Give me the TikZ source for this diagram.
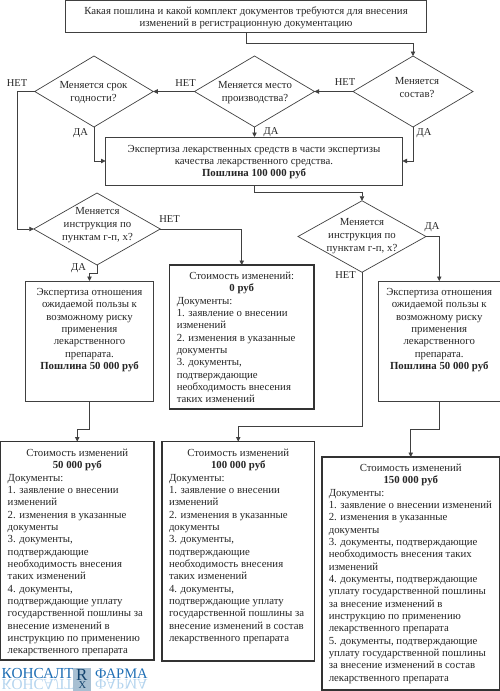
\documentclass[tikz,border=0pt]{standalone}
\usepackage{fontspec}
\setmainfont{Liberation Serif}
\usetikzlibrary{shapes.geometric,arrows.meta}
\definecolor{ln}{HTML}{404040}
\definecolor{logoblue}{HTML}{1F6FB5}
\definecolor{logopale}{HTML}{B4D4EE}
\newcommand{\ctr}[1]{\makebox[\linewidth][c]{#1}}
% height, width, top offset, text
\newcommand{\boxtext}[4]{\parbox[c][#1][t]{#2}{\vspace*{#3}\raggedright\fontsize{10.8}{12.33}\selectfont #4}}
\tikzset{
  box/.style={draw=ln,line width=0.8pt,fill=white,inner sep=0pt,outer sep=0pt,anchor=north west,text=black!85},
  thickbox/.style={box,draw=black!80,line width=1.6pt},
  dia/.style={diamond,draw=ln,line width=0.7pt,inner sep=0pt,outer sep=0pt},
  dtext/.style={inner sep=0pt,align=center,font=\fontsize{10.8}{13}\selectfont,text=black!85},
  lbl/.style={inner sep=0pt,font=\fontsize{10.5}{12}\selectfont,text=black!85},
  conn/.style={draw=ln,line width=0.8pt,-{Triangle[length=4.5pt,width=4.5pt]}},
  logo/.style={inner sep=0pt,anchor=base west,font=\fontsize{15.3}{16}\selectfont,text=logoblue},
  logof/.style={logo,font=\fontsize{14.5}{16}\selectfont},
  logor/.style={logo,yscale=-1,text=logopale},
  logofr/.style={logof,yscale=-1,text=logopale}
}
\begin{document}
\begin{tikzpicture}[x=1pt,y=-1pt]
\useasboundingbox (0,0) rectangle (500,691);
% boxes
\node[box,minimum width=361pt,minimum height=32.5pt] (top) at (65.5,0)
  {\boxtext{32.5pt}{361pt}{6.5pt}{\ctr{Какая пошлина и какой комплект документов требуются для внесения}\\\ctr{изменений в регистрационную документацию}}};
\node[box,minimum width=297pt,minimum height=48pt] (Q) at (105.5,137)
  {\boxtext{48pt}{297pt}{8pt}{\ctr{Экспертиза лекарственных средств в части экспертизы}\\\ctr{качества лекарственного средства.}\\\ctr{\textbf{Пошлина 100 000 руб}}}};
\node[box,minimum width=128pt,minimum height=120pt] (A) at (25.5,281)
  {\boxtext{120pt}{128pt}{7.5pt}{\ctr{Экспертиза отношения}\\\ctr{ожидаемой пользы к}\\\ctr{возможному риску}\\\ctr{применения}\\\ctr{лекарственного}\\\ctr{препарата.}\\\ctr{\textbf{Пошлина 50 000 руб}}}};
\node[box,minimum width=121.5pt,minimum height=120pt] (B) at (378.5,281)
  {\boxtext{120pt}{121.5pt}{7.5pt}{\ctr{Экспертиза отношения}\\\ctr{ожидаемой пользы к}\\\ctr{возможному риску}\\\ctr{применения}\\\ctr{лекарственного}\\\ctr{препарата.}\\\ctr{\textbf{Пошлина 50 000 руб}}}};
\node[thickbox,minimum width=144.5pt,minimum height=144pt] (Z) at (169.5,265)
  {\boxtext{144pt}{130pt}{7pt}{\ctr{Стоимость изменений:}\\\ctr{\textbf{0 руб}}\\Документы:\\1. заявление о внесении\\изменений\\2. изменения в указанные\\документы\\3. документы,\\подтверждающие\\необходимость внесения\\таких изменений}};
\node[thickbox,minimum width=153.5pt,minimum height=218.5pt] (D) at (0.5,441.5)
  {\boxtext{218.5pt}{139pt}{7.5pt}{\ctr{Стоимость изменений}\\\ctr{\textbf{50 000 руб}}\\Документы:\\1. заявление о внесении\\изменений\\2. изменения в указанные\\документы\\3. документы,\\подтверждающие\\необходимость внесения\\таких изменений\\4. документы,\\подтверждающие уплату\\государственной пошлины за\\внесение изменений в\\инструкцию по применению\\лекарственного препарата}};
\node[thickbox,minimum width=152.5pt,minimum height=219.5pt] (C) at (162,441.5)
  {\boxtext{219.5pt}{138.5pt}{7.5pt}{\ctr{Стоимость изменений}\\\ctr{\textbf{100 000 руб}}\\Документы:\\1. заявление о внесении\\изменений\\2. изменения в указанные\\документы\\3. документы,\\подтверждающие\\необходимость внесения\\таких изменений\\4. документы,\\подтверждающие уплату\\государственной пошлины за\\внесение изменений в состав\\лекарственного препарата}};
\node[thickbox,minimum width=177.5pt,minimum height=233pt] (E) at (322,457)
  {\boxtext{233pt}{164pt}{7pt}{\ctr{Стоимость изменений}\\\ctr{\textbf{150 000 руб}}\\Документы:\\1. заявление о внесении изменений\\2. изменения в указанные\\документы\\3. документы, подтверждающие\\необходимость внесения таких\\изменений\\4. документы, подтверждающие\\уплату государственной пошлины\\за внесение изменений в\\инструкцию по применению\\лекарственного препарата\\5. документы, подтверждающие\\уплату государственной пошлины\\за внесение изменений в состав\\лекарственного препарата}};
% diamonds
\node[dia,minimum width=120pt,minimum height=71pt] (d3) at (413,91.5) {};
\node[dia,minimum width=120pt,minimum height=71pt] (d2) at (254.5,91.5) {};
\node[dia,minimum width=118.5pt,minimum height=71pt] (d1) at (94,91.5) {};
\node[dia,minimum width=126.5pt,minimum height=72pt] (d4) at (97,229) {};
\node[dia,minimum width=128pt,minimum height=71.5pt] (d5) at (362,236.5) {};
\node[dtext] (t3) at (417,88) {Меняется\\состав?};
\node[dtext] (t2) at (255,92.5) {Меняется место\\производства?};
\node[dtext] (t1) at (93.5,92.5) {Меняется срок\\годности?};
\node[dtext] (t4) at (97.5,225) {Меняется\\инструкция по\\пунктам г-п, х?};
\node[dtext] (t5) at (362,236) {Меняется\\инструкция по\\пунктам г-п, х?};
% connectors
\draw[conn] (top.south) -- ++(0,11) -| (d3.north);
\draw[conn] (d3.west) -- (d2.east);
\draw[conn] (d2.west) -- (d1.east);
\draw[conn] (d2.south) -- (Q.north -| d2.south);
\draw[conn] (d1.south) |- (Q.west);
\draw[conn] (d3.south) |- (Q.east);
\draw[conn] (d1.west) -- ++(-17.5,0) |- (d4.west);
\draw[conn] (Q.south) -- ++(0,7) -| (d5.north);
\draw[conn] (d4.east) -| (Z.north);
\draw[conn] (d4.south) -- ++(0,8) -| (A.north);
\draw[conn] (d5.east) -| (B.north);
\draw[conn] (d5.south) -- ++(0,154.5) -| (C.north);
\draw[conn] (A.south) -- ++(0,28) -| (D.north);
\draw[conn] (B.south) -- ++(0,28) -| (E.north);
% branch labels
\node[lbl] (n1) at (17,83) {НЕТ};
\node[lbl] (n2) at (185.5,83) {НЕТ};
\node[lbl] (n3) at (345,82) {НЕТ};
\node[lbl] (n4) at (169.5,219) {НЕТ};
\node[lbl] (n5) at (345.5,275.5) {НЕТ};
\node[lbl] (y1) at (80.5,133) {ДА};
\node[lbl] (y2) at (271,132) {ДА};
\node[lbl] (y3) at (424,133) {ДА};
\node[lbl] (y4) at (78.5,268) {ДА};
\node[lbl] (y5) at (432,227.5) {ДА};
% logo
\node[logor] (l1r) at (1.5,679.5) {КОНСАЛТ};
\node[logofr] (l2r) at (95,679.5) {ФАРМА};
\node[logo] (l1) at (1.5,678) {КОНСАЛТ};
\node[logof] (l2) at (95,678) {ФАРМА};
\path[fill=logopale!75!gray] (73,668) rectangle (91,691);
\node[logo,text=logoblue!60!black,font=\fontsize{17}{17}\selectfont] (rx1) at (76,680.5) {R};
\node[logo,text=logoblue!60!black,font=\fontsize{10.5}{11}\selectfont] (rx2) at (78.5,688.5) {X};
\end{tikzpicture}
\end{document}
